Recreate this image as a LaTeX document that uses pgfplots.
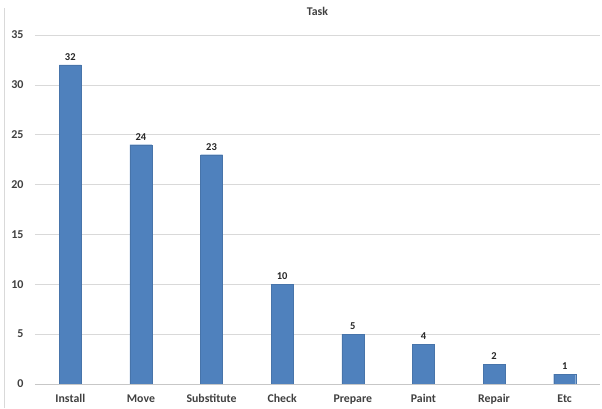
\documentclass[border=0pt]{standalone}
\usepackage{pgfplots}
\pgfplotsset{compat=1.18}
\usepackage{fontspec}
\setmainfont{Carlito}
\definecolor{barblue}{HTML}{4F81BD}
\definecolor{gridgray}{HTML}{D9D9D9}
\definecolor{txtgray}{HTML}{404040}
\begin{document}
\begin{tikzpicture}
\useasboundingbox (-35pt,-24pt) rectangle (567pt,384pt);
\draw[gridgray, line width=0.8pt] (-31pt,-24pt) -- (-31pt,376pt);
\begin{axis}[
  scale only axis,
  width=565pt, height=349pt,
  xmin=-0.5, xmax=7.5,
  ymin=0, ymax=35,
  ytick={0,5,...,35},
  xtick={0,...,7},
  xticklabels={Install,Move,Substitute,Check,Prepare,Paint,Repair,Etc},
  axis line style={draw=none},
  axis x line*=bottom,
  axis y line*=left,
  major tick length=0pt,
  ymajorgrids,
  grid style={gridgray, line width=0.6pt},
  tick label style={text=txtgray},
  yticklabel style={font=\bfseries\fontsize{12}{14}\selectfont, xshift=-8pt},
  xticklabel style={font=\bfseries\fontsize{11.8}{14}\selectfont, yshift=-7pt},
  /pgf/number format/assume math mode=true,
  ybar, bar width=22pt,
  nodes near coords,
  every node near coord/.append style={font=\bfseries\fontsize{10.5}{12}\selectfont, text=black!85, yshift=1pt},
  title={Task},
  title style={font=\bfseries\fontsize{11.8}{14}\selectfont, text=txtgray, at={(0.5,1)}, yshift=10pt},
  clip=false,
]
\addplot[fill=barblue, draw=barblue!90!black, line width=0.3pt] coordinates {
  (0,32) (1,24) (2,23) (3,10) (4,5) (5,4) (6,2) (7,1)
};
\draw[gridgray!80!gray, line width=0.8pt] (axis cs:-0.5,0) -- (axis cs:7.5,0);
\end{axis}
\end{tikzpicture}
\end{document}
